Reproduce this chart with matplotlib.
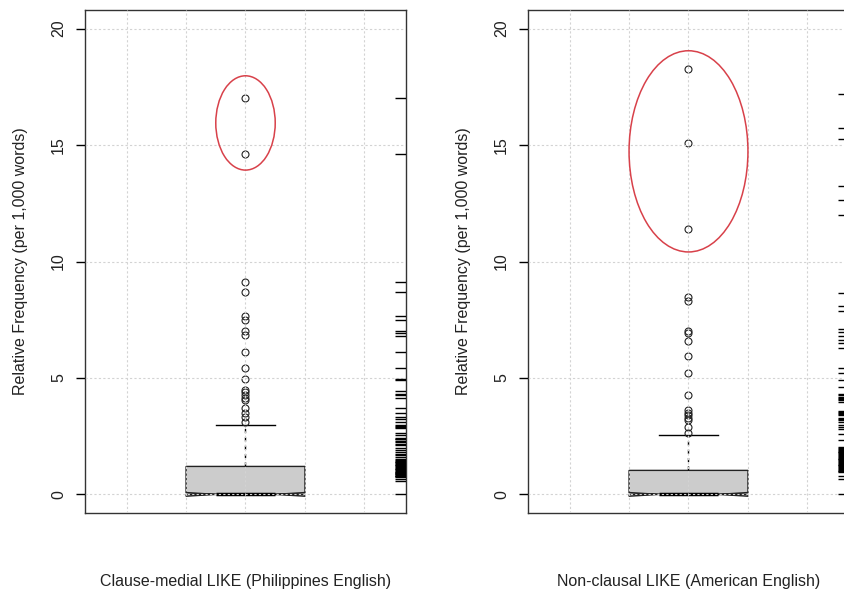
import matplotlib.pyplot as plt
from matplotlib.patches import Ellipse

plt.rcParams['font.family'] = ['Liberation Sans', 'DejaVu Sans']

# Philippines English: clause-medial LIKE
PH_LABEL = "Clause-medial LIKE (Philippines English)"
PH_Q1, PH_MED, PH_Q3 = 0.0, 0.0, 1.2
PH_WHISKERS = [0.0, 3.0]
PH_OUTLIERS = [17.0, 14.6, 9.13, 8.70, 7.68, 7.50, 7.00, 6.85, 6.13, 5.44,
               4.95, 4.50, 4.40, 4.28, 4.15, 4.05, 3.69, 3.50, 3.31, 3.11]
PH_RUG = [17.0, 14.6, 9.13, 8.70, 7.68, 7.50, 7.03, 6.95, 6.78, 6.13, 5.44,
          4.95, 4.90, 4.44, 4.33, 4.26, 4.15, 3.69, 3.50, 3.31, 3.25, 3.11,
          3.00, 2.94, 2.91, 2.85, 2.65, 2.55, 2.42, 2.38, 2.36, 2.30, 2.25,
          2.17, 2.10, 1.97, 1.90, 1.81, 1.74, 1.67, 1.60, 1.53, 1.48, 1.45,
          1.40, 1.38, 1.33, 1.30, 1.26, 1.24, 1.20, 1.18, 1.15, 1.11, 1.09,
          1.05, 1.02, 0.98, 0.95, 0.92, 0.90, 0.88, 0.86, 0.84, 0.81, 0.79,
          0.77, 0.73, 0.66, 0.59, 0.0]

# American English: non-clausal LIKE
US_LABEL = "Non-clausal LIKE (American English)"
US_Q1, US_MED, US_Q3 = 0.0, 0.0, 1.03
US_WHISKERS = [0.0, 2.56]
US_OUTLIERS = [18.27, 15.08, 11.40, 8.47, 8.29, 7.03, 6.91, 6.60, 5.95, 5.20,
               4.26, 3.61, 3.51, 3.40, 3.30, 3.18, 2.89, 2.65]
US_RUG = [17.19, 15.74, 15.25, 13.23, 12.64, 12.01, 8.63, 8.10, 7.86, 7.11,
          6.97, 6.82, 6.64, 6.50, 6.28, 5.41, 5.20, 4.91, 4.62, 4.30, 4.25,
          4.20, 4.15, 4.10, 4.05, 3.97, 3.60, 3.55, 3.50, 3.45, 3.40, 3.30,
          3.25, 3.20, 3.10, 3.00, 2.90, 2.81, 2.61, 2.32, 2.03, 1.98, 1.95,
          1.90, 1.88, 1.84, 1.80, 1.76, 1.72, 1.68, 1.65, 1.61, 1.58, 1.54,
          1.50, 1.46, 1.42, 1.38, 1.35, 1.31, 1.28, 1.24, 1.20, 1.16, 1.12,
          1.08, 1.05, 1.02, 0.99, 0.95, 0.81, 0.66, 0.0]

# circled extreme values: centre x, centre y, width, height
PH_RING = (1.0, 15.95, 0.2, 4.05)
US_RING = (1.0, 14.73, 0.4, 8.64)

Y_LABEL = "Relative Frequency (per 1,000 words)"
Y_TICKS = [0, 5, 10, 15, 20]
GRID_X = [0.6, 0.8, 1.0, 1.2, 1.4]


def draw_panel(ax, q1, med, q3, whiskers, outliers, rug, ring, label):
    stats = dict(q1=q1, med=med, q3=q3, whislo=whiskers[0], whishi=whiskers[1],
                 cilo=med - 0.08, cihi=med + 0.08, fliers=outliers)
    ax.bxp([stats], positions=[1], widths=0.4, capwidths=0.2,
           patch_artist=True, shownotches=True,
           boxprops=dict(facecolor='#cccccc', edgecolor='#222222', linewidth=1),
           medianprops=dict(color='black', linewidth=2.5),
           whiskerprops=dict(color='black', linewidth=1, linestyle=(0, (3, 3))),
           capprops=dict(color='black', linewidth=1),
           flierprops=dict(marker='o', markerfacecolor='none',
                           markeredgecolor='#222222', markersize=5,
                           markeredgewidth=0.8))

    cx, cy, w, h = ring
    ax.add_patch(Ellipse((cx, cy), w, h, fill=False, edgecolor='#d8414a',
                         linewidth=1.1, zorder=3))

    # rug along the right edge
    ax.hlines(rug, 0.966, 1.0, transform=ax.get_yaxis_transform(),
              colors='black', linewidth=1, zorder=3)

    ax.set_xlim(0.46, 1.54)
    ax.set_ylim(-0.8, 20.8)
    ax.set_xticks(GRID_X)
    ax.set_yticks(Y_TICKS)
    ax.grid(True, color='#d3d3d3', linestyle=(0, (2, 2)), linewidth=0.8)
    ax.set_axisbelow(False)
    ax.tick_params(axis='x', length=0, labelbottom=False)
    ax.tick_params(axis='y', length=6.5, width=1, pad=7, labelsize=11.5,
                   labelcolor='#222222', labelrotation=90)
    for lab in ax.get_yticklabels():
        lab.set_va('center')
    for sp in ax.spines.values():
        sp.set_color('#333333')
        sp.set_linewidth(1)

    ax.set_ylabel(Y_LABEL, fontsize=11.5, color='#222222')
    ax.yaxis.set_label_coords(-0.178, 0.5)
    ax.set_xlabel(label, fontsize=11.5, color='#222222')
    ax.xaxis.set_label_coords(0.5, -0.122)


fig = plt.figure(figsize=(8.45, 5.92), dpi=100)
ax1 = fig.add_axes([85 / 845, 1 - 513 / 592, 321 / 845, 503 / 592])
ax2 = fig.add_axes([528 / 845, 1 - 513 / 592, 321 / 845, 503 / 592])

draw_panel(ax1, PH_Q1, PH_MED, PH_Q3, PH_WHISKERS, PH_OUTLIERS, PH_RUG,
           PH_RING, PH_LABEL)
draw_panel(ax2, US_Q1, US_MED, US_Q3, US_WHISKERS, US_OUTLIERS, US_RUG,
           US_RING, US_LABEL)

fig.savefig("out.png", dpi=100)
